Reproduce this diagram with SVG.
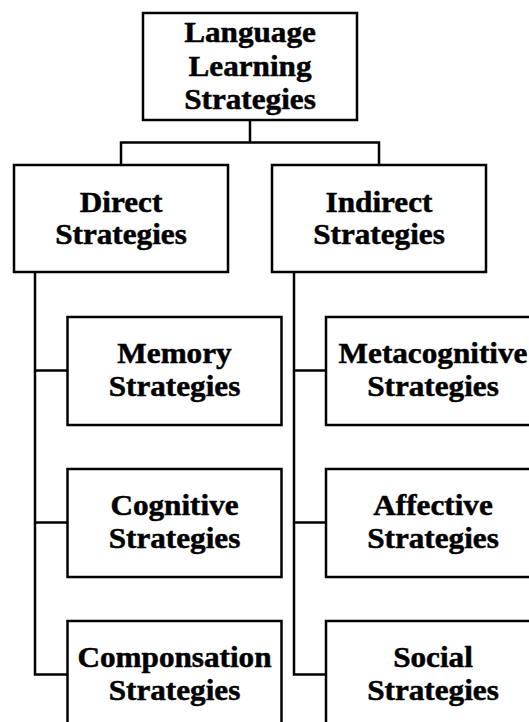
<svg xmlns="http://www.w3.org/2000/svg" width="529" height="722" viewBox="0 0 529 722">
<style>
.box{fill:#fff;stroke:#000;stroke-width:2.5}
.ln{fill:none;stroke:#000;stroke-width:2.5;stroke-linejoin:miter}
.t{font-family:"Liberation Serif","Times New Roman",serif;font-weight:bold;font-size:30px;fill:#000;stroke:#000;stroke-width:0.5;text-anchor:middle}
</style>
<rect width="529" height="722" fill="#fff"/>
<g id="connectors">
<path class="ln" d="M250 120V142.5M121 165V142.5H379V165"/>
<path class="ln" d="M35 272V674.5H67.5M35 370.5H67.5M35 522.5H67.5"/>
<path class="ln" d="M294 272V674.5H326M294 370.5H326M294 522.5H326"/>
</g>
<g id="lls">
<rect class="box" x="143" y="13" width="214" height="107"/>
<text class="t" transform="translate(250 0) scale(1.04 1)"><tspan x="0" y="42.5">Language</tspan><tspan x="0" y="76">Learning</tspan><tspan x="0" y="109.5">Strategies</tspan></text>
</g>
<g id="direct">
<rect class="box" x="14" y="165" width="214" height="107"/>
<text class="t" transform="translate(121 0) scale(1.04 1)"><tspan x="0" y="212">Direct</tspan><tspan x="0" y="244.5">Strategies</tspan></text>
</g>
<g id="indirect">
<rect class="box" x="272" y="165" width="214" height="107"/>
<text class="t" transform="translate(379 0) scale(1.04 1)"><tspan x="0" y="212">Indirect</tspan><tspan x="0" y="244.5">Strategies</tspan></text>
</g>
<g id="memory">
<rect class="box" x="67.5" y="317" width="214" height="108"/>
<text class="t" transform="translate(174.5 0) scale(1.04 1)"><tspan x="0" y="363.5">Memory</tspan><tspan x="0" y="396.2">Strategies</tspan></text>
</g>
<g id="cognitive">
<rect class="box" x="67.5" y="469" width="214" height="108"/>
<text class="t" transform="translate(174.5 0) scale(1.04 1)"><tspan x="0" y="515.5">Cognitive</tspan><tspan x="0" y="548.2">Strategies</tspan></text>
</g>
<g id="componsation">
<rect class="box" x="67.5" y="621" width="214" height="108"/>
<text class="t" transform="translate(174.5 0) scale(1.04 1)"><tspan x="0" y="667.5">Componsation</tspan><tspan x="0" y="700.2">Strategies</tspan></text>
</g>
<g id="metacognitive">
<rect class="box" x="326" y="317" width="214" height="108"/>
<text class="t" transform="translate(433 0) scale(1.04 1)"><tspan x="0" y="363.5">Metacognitive</tspan><tspan x="0" y="396.2">Strategies</tspan></text>
</g>
<g id="affective">
<rect class="box" x="326" y="469" width="214" height="108"/>
<text class="t" transform="translate(433 0) scale(1.04 1)"><tspan x="0" y="515.5">Affective</tspan><tspan x="0" y="548.2">Strategies</tspan></text>
</g>
<g id="social">
<rect class="box" x="326" y="621" width="214" height="108"/>
<text class="t" transform="translate(433 0) scale(1.04 1)"><tspan x="0" y="667.5">Social</tspan><tspan x="0" y="700.2">Strategies</tspan></text>
</g>
</svg>
